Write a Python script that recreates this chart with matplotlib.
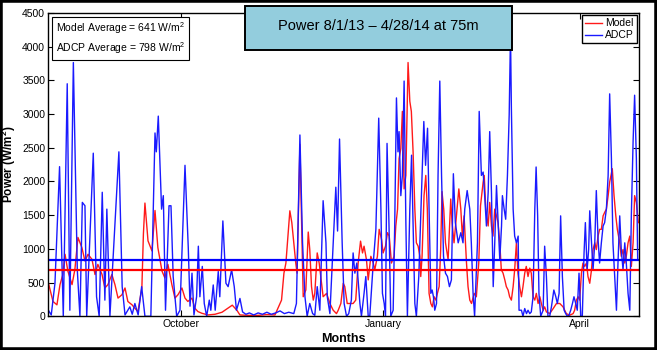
import numpy as np
import matplotlib
matplotlib.use('Agg')
import matplotlib.pyplot as plt
import matplotlib.dates as mdates
from matplotlib.patches import Rectangle

plt.rcParams['font.family'] = ['Liberation Sans', 'DejaVu Sans']
plt.rcParams['mathtext.fontset'] = 'custom'
plt.rcParams['mathtext.rm'] = 'Liberation Sans'
plt.rcParams['mathtext.it'] = 'Liberation Sans:italic'
plt.rcParams['mathtext.bf'] = 'Liberation Sans:bold'

start = np.datetime64('2013-08-01T00:00')
end = np.datetime64('2014-04-28T00:00')

# days since 8/1/13, power in W/m^2
model_day = [0, 2.3, 4.1, 5.5, 6.8, 7.8, 9.1, 11.0, 12.3, 13.7, 15.5, 16.9, 18.3, 20.1, 21.5, 22.8,
             24.7, 26.0, 27.4, 29.2, 30.6, 32.0, 33.8, 35.2, 36.5, 38.4, 39.7, 41.1, 42.9, 43.6, 44.3,
             45.7, 47.5, 48.9, 50.2, 52.1, 53.4, 54.8, 56.6, 58.0, 59.4, 61.2, 62.6, 63.9, 65.8, 67.1,
             68.5, 70.3, 73.1, 76.3, 79.5, 82.2, 84.2, 86.3, 87.7, 94.5, 100.0, 103.7, 106.7, 107.8,
             108.7, 110.5, 111.4, 112.3, 113.2, 113.8, 115.1, 116.6, 117.8, 118.9, 119.6, 120.4, 121.2,
             121.9, 123.0, 123.9, 125.0, 125.7, 127.3, 128.8, 130.3, 131.8, 132.6, 133.8, 134.9, 135.6,
             136.7, 137.9, 139.4, 140.6, 141.7, 142.8, 143.7, 144.4, 145.5, 146.3, 147.5, 148.6, 149.3,
             150.5, 151.3, 152.4, 153.1, 154.2, 155.1, 155.9, 156.9, 158.1, 158.9, 159.7, 160.4, 161.2,
             161.9, 162.7, 163.5, 164.5, 165.3, 166.0, 166.8, 167.6, 168.3, 169.1, 169.9, 170.3, 170.9,
             171.8, 172.6, 173.3, 174.1, 174.9, 175.6, 176.4, 177.2, 177.9, 178.7, 179.4, 180.0, 180.8,
             181.6, 182.8, 184.0, 184.6, 185.5, 186.6, 187.7, 188.6, 189.3, 190.1, 191.2, 191.9, 192.7,
             193.5, 194.7, 195.7, 196.8, 197.6, 198.8, 199.3, 200.0, 201.1, 201.8, 202.6, 203.3, 204.1,
             204.9, 205.6, 206.4, 207.1, 207.9, 208.7, 209.4, 210.2, 210.9, 211.7, 212.5, 213.2, 214.0,
             214.7, 215.5, 216.3, 217.0, 217.8, 218.5, 219.3, 220.1, 220.8, 221.6, 222.4, 223.1, 223.9,
             224.7, 225.4, 226.2, 226.9, 227.7, 229.2, 230.8, 232.3, 233.8, 235.3, 236.8, 238.3, 239.9,
             240.6, 241.4, 242.2, 242.9, 243.7, 244.4, 245.2, 246.0, 246.7, 247.5, 248.3, 249.0, 249.8,
             250.5, 251.3, 252.0, 252.8, 253.6, 254.3, 255.1, 255.9, 256.6, 257.8, 258.6, 259.4, 260.1,
             261.2, 261.9, 262.7, 263.5, 264.2, 265.0, 265.8, 266.5, 267.3, 268.0, 268.8, 269.7]
model_power = [520, 220, 170, 470, 620, 920, 670, 470, 695, 1170, 1020, 820, 920, 845, 620, 770,
               620, 420, 470, 620, 470, 270, 320, 420, 220, 170, 120, 70, 420, 1220, 1680,
               1120, 970, 1570, 1020, 670, 570, 770, 470, 270, 320, 420, 270, 220, 270, 120,
               70, 45, 20, 30, 60, 120, 165, 90, 20, 10, 25, 20, 240, 640,
               790, 1565, 1390, 1090, 790, 640, 2550, 290, 390, 1250, 990, 440, 240,
               340, 940, 790, 490, 290, 340, 190, 90, 40, 90, 190, 490, 440,
               190, 190, 190, 240, 790, 1115, 940, 1040, 840, 540, 890, 790, 690,
               890, 1290, 1140, 940, 1040, 1240, 1190, 790, 890, 1340, 1590, 2340, 2490,
               3040, 1890, 2090, 3765, 3190, 3040, 2440, 1590, 1090, 1040, 890, 590, 890,
               1790, 2090, 1590, 340, 190, 140, 290, 240, 340, 440, 990, 1850, 1590,
               1090, 840, 1740, 1390, 1090, 1490, 1890, 1590, 1190, 1490, 790, 440, 240,
               190, 340, 290, 790, 1640, 1990, 2090, 1590, 1340, 1690, 1340, 1190, 1590,
               1490, 1390, 1090, 690, 640, 540, 440, 390, 290, 240, 440, 690, 1090,
               640, 440, 290, 440, 640, 740, 590, 715, 640, 290, 240, 340, 190,
               290, 190, 90, 140, 65, 40, 115, 190, 190, 140, 40, 15, 40,
               90, 240, 290, 240, 640, 790, 740, 790, 590, 490, 690, 990, 1090,
               990, 1190, 1290, 1290, 1490, 1540, 1590, 1790, 1990, 2190, 1790, 1490, 1290,
               1090, 890, 990, 790, 890, 1090, 1190, 740, 1090, 1790, 1690, 1390]

adcp_day = [0, 1.5, 3.2, 5.3, 7.0, 8.8, 10.0, 11.6, 13.4, 14.6, 15.7, 16.9, 17.7, 20.7, 22.2, 23.4,
            24.8, 26.0, 26.9, 28.3, 32.4, 33.9, 35.2, 37.4, 38.5, 39.7, 41.2, 42.8, 44.3, 47.0, 48.9,
            49.5, 50.4, 51.9, 52.7, 53.7, 55.3, 56.2, 57.2, 58.8, 60.3, 62.6, 64.1, 64.9, 65.8, 66.7,
            67.9, 68.7, 69.4, 70.5, 71.4, 72.5, 73.7, 74.4, 75.5, 76.4, 77.8, 78.5, 79.9, 81.3, 82.3,
            83.9, 85.1, 86.1, 87.7, 88.9, 90.4, 92, 94, 96, 98, 100, 102, 104, 106, 108, 110, 112.3,
            113.5, 115.1, 116.3, 117.4, 118.4, 119.6, 120.9, 121.9, 123.0, 124.2, 125.7, 127.0, 127.6,
            128.8, 130.3, 131.5, 132.3, 133.2, 134.4, 135.3, 136.4, 137.4, 138.6, 139.4, 140.2, 141.1,
            142.5, 143.2, 144.4, 145.2, 146.3, 147.0, 148.6, 149.8, 151.1, 152.1, 152.8, 153.6, 154.2,
            154.9, 155.8, 156.6, 157.7, 158.4, 159.2, 159.9, 160.4, 161.2, 161.9, 162.7, 163.5, 164.2,
            165.3, 166.1, 166.8, 167.6, 168.3, 169.4, 170.4, 171.0, 171.7, 172.5, 173.4, 174.1, 174.9,
            175.5, 176.1, 176.7, 177.5, 178.2, 179.0, 179.8, 180.7, 181.6, 182.5, 183.4, 184.3, 185.2,
            186.1, 187.4, 188.6, 189.6, 190.4, 191.5, 192.7, 193.4, 194.2, 194.9, 196.2, 197.0, 198.0,
            198.8, 199.5, 200.3, 201.1, 201.8, 202.6, 203.4, 204.1, 204.9, 205.6, 206.4, 207.2, 207.6,
            208.4, 209.1, 209.9, 210.7, 211.3, 211.7, 212.5, 213.2, 214.0, 214.8, 215.2, 216.3, 217.0,
            217.8, 218.6, 219.3, 220.1, 220.8, 221.6, 222.4, 223.0, 223.7, 224.3, 225.1, 226.2, 226.9,
            227.7, 228.4, 229.2, 230.0, 231.1, 232.0, 232.7, 233.5, 234.2, 235.0, 235.8, 236.5, 237.3,
            238.0, 238.8, 239.6, 240.3, 241.1, 241.8, 242.6, 243.4, 244.1, 244.9, 245.5, 246.3, 247.0,
            247.5, 248.3, 249.0, 249.8, 250.5, 251.3, 252.0, 252.8, 253.6, 254.3, 255.1, 255.9, 256.6,
            257.4, 258.1, 258.9, 259.7, 260.4, 261.2, 261.9, 262.7, 263.5, 264.2, 265.0, 265.8, 266.5,
            267.3, 268.0, 268.8, 269.4]
adcp_power = [100, 20, 490, 2220, 0, 3450, 90, 3765, 690, 0, 1690, 1640, 0, 2420, 290, 0,
              1840, 240, 1590, 0, 2440, 440, 20, 140, 30, 190, 20, 440, 0, 0, 2720,
              2440, 2970, 1590, 1790, 90, 1640, 1640, 590, 0, 90, 2240, 1015, 150, 640, 20,
              290, 1040, 290, 740, 190, 0, 240, 90, 465, 90, 665, 290, 1415, 490, 440,
              690, 440, 90, 265, 65, 30, 50, 20, 50, 30, 60, 30, 50, 80, 40, 60, 40,
              190, 2690, 1090, 290, 0, 190, 40, 15, 440, 90, 1715, 1090, 290,
              40, 1090, 1915, 1265, 2630, 1090, 190, 0, 40, 240, 940, 640, 790,
              190, 0, 340, 590, 0, 0, 790, 1290, 2940, 1590, 340, 190, 0,
              2565, 1340, 0, 90, 1340, 3240, 2440, 2740, 1790, 2090, 3490, 1390, 0,
              1590, 2390, 1340, 190, 0, 590, 1590, 2240, 2890, 2240, 2790, 1590, 340,
              390, 290, 90, 190, 2090, 3490, 2090, 890, 640, 590, 440, 540, 2115,
              1390, 1090, 1240, 1090, 1590, 1865, 1590, 1090, 340, 0, 1090, 3040, 2090,
              2140, 1790, 1340, 1840, 2740, 1840, 440, 1090, 1940, 1440, 840, 1340, 1790,
              1590, 1440, 2090, 2990, 4190, 3090, 1590, 1190, 1090, 1190, 90, 90, 0,
              115, 40, 90, 40, 65, 290, 1590, 2215, 1490, 340, 0, 90, 1040,
              590, 0, 0, 140, 390, 290, 190, 340, 1490, 590, 90, 40, 0,
              15, 90, 190, 290, 190, 90, 640, 0, 0, 940, 1390, 690, 990,
              1565, 1090, 690, 1090, 1865, 1140, 790, 1090, 1340, 1390, 1590, 2090, 3300,
              2340, 1090, 590, 90, 790, 1490, 990, 690, 1090, 790, 340, 90, 1490,
              2590, 3280, 2340, 840]

# horizontal reference lines as drawn
model_level = 690
adcp_level = 835
model_avg = 641
adcp_avg = 798


def to_dates(days):
    mins = np.round(np.array(days) * 1440).astype(np.int64)
    return start + mins.astype('timedelta64[m]')


fig = plt.figure(figsize=(6.57, 3.5), dpi=100)
ax = fig.add_axes([0.073, 0.0963, 0.8996, 0.8666])

ax.plot(to_dates(model_day), model_power, color='#ff1a1a', lw=1.0, label='Model')
ax.plot(to_dates(adcp_day), adcp_power, color='#1a1aff', lw=1.0, label='ADCP')
ax.axhline(model_level, color='#ff0000', lw=1.6)
ax.axhline(adcp_level, color='#0000ff', lw=1.6)

ax.set_xlim(start, end)
ax.set_ylim(0, 4500)
ax.set_yticks(np.arange(0, 4501, 500))
ax.xaxis.set_major_locator(mdates.MonthLocator(bymonth=[10, 1, 4]))
ax.xaxis.set_major_formatter(mdates.DateFormatter('%B'))
ax.tick_params(direction='in', top=True, right=True, length=4, width=0.8, labelsize=7.5, pad=2)
for s in ax.spines.values():
    s.set_linewidth(1.0)

ax.set_ylabel(r'Power (W/m$^\mathbf{2}$)', fontsize=8.5, fontweight='bold')
ax.yaxis.set_label_coords(-0.05, 0.5)
ax.set_xlabel('Months', fontsize=9, fontweight='bold', labelpad=3)

ax.legend(loc='upper right', fontsize=7.5, fancybox=False, edgecolor='black', framealpha=1,
          handlelength=1.6, handletextpad=0.3, borderpad=0.3, labelspacing=0.2,
          borderaxespad=0.2)

ax.text(0.013, 0.975, 'Model Average = %d W/m$^2$\nADCP Average = %d W/m$^2$' % (model_avg, adcp_avg),
        transform=ax.transAxes, va='top', ha='left', fontsize=7.5, linespacing=1.35,
        bbox=dict(boxstyle='square,pad=0.35', fc='white', ec='black', lw=0.8))

# title box
fig.add_artist(Rectangle((245 / 657, 1 - 50 / 350), 267 / 657, 44 / 350, transform=fig.transFigure,
                         facecolor='#93cddd', edgecolor='black', lw=1.4, zorder=5))
fig.text(378.5 / 657, 1 - 26 / 350, 'Power 8/1/13 \u2013 4/28/14 at 75m', ha='center', va='center',
         fontsize=10.5, zorder=6)

# outer frame
fig.add_artist(Rectangle((0, 0), 1, 1, transform=fig.transFigure, fill=False,
                         edgecolor='black', lw=4, zorder=10))

fig.savefig('out.png', dpi=100)
